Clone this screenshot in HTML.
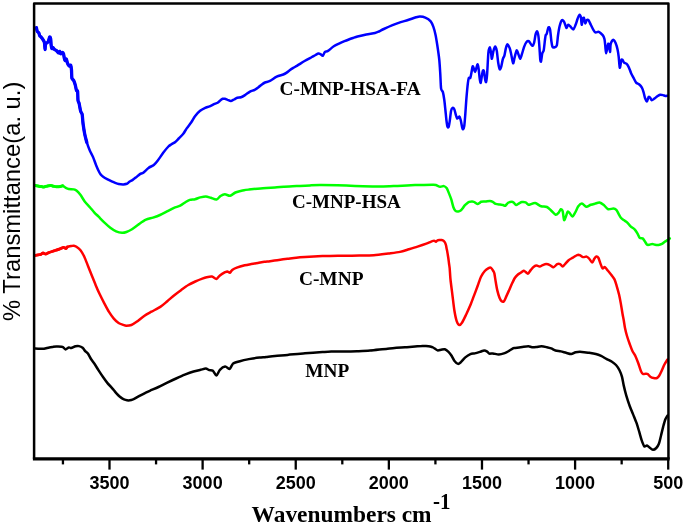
<!DOCTYPE html>
<html><head><meta charset="utf-8"><style>
html,body{margin:0;padding:0;background:#fff;}
body{width:685px;height:525px;overflow:hidden;}
svg{display:block;will-change:transform;}
</style></head><body>
<svg width="685" height="525" viewBox="0 0 685 525">
<rect width="685" height="525" fill="#fff"/>
<g fill="none" stroke-width="2.5" stroke-linejoin="round" stroke-linecap="round">
<path stroke="#0000ff" d="M36.40,27.60 C36.52,28.11 36.98,30.69 37.30,31.40 C37.62,32.11 38.48,32.33 38.80,32.90 C39.12,33.47 39.39,35.14 39.70,35.70 C40.01,36.26 40.71,36.66 41.10,37.10 C41.49,37.54 42.28,38.55 42.60,39.00 C42.92,39.45 43.25,39.98 43.50,40.50 C43.75,41.02 44.30,41.70 44.50,42.90 C44.70,44.10 44.85,49.38 45.00,49.50 C45.15,49.62 45.35,44.68 45.60,43.80 C45.85,42.92 46.54,43.22 46.90,42.90 C47.26,42.58 47.93,42.19 48.30,41.40 C48.67,40.61 49.38,37.32 49.70,37.00 C50.02,36.68 50.51,37.96 50.70,39.00 C50.89,40.04 50.94,43.52 51.10,44.80 C51.26,46.08 51.65,48.23 51.90,48.60 C52.15,48.97 52.65,47.48 53.00,47.60 C53.35,47.72 54.05,49.11 54.50,49.50 C54.95,49.89 55.89,50.05 56.40,50.50 C56.91,50.95 57.86,52.78 58.30,52.90 C58.74,53.02 59.38,51.28 59.70,51.40 C60.02,51.52 60.31,53.67 60.70,53.80 C61.09,53.93 62.23,52.40 62.60,52.40 C62.97,52.40 63.27,53.04 63.50,53.80 C63.73,54.56 64.10,57.21 64.30,58.10 C64.50,58.99 64.72,60.38 65.00,60.50 C65.28,60.62 66.12,58.81 66.40,59.00 C66.68,59.19 66.85,61.13 67.10,61.90 C67.35,62.67 67.95,64.23 68.30,64.80 C68.65,65.37 69.38,66.15 69.70,66.20 C70.02,66.25 70.46,64.69 70.70,65.20 C70.94,65.71 71.34,68.27 71.50,70.00 C71.66,71.73 71.61,76.80 71.90,78.20 C72.19,79.60 73.25,79.58 73.70,80.50 C74.15,81.42 74.93,83.77 75.30,85.10 C75.67,86.43 76.19,89.69 76.50,90.50 C76.81,91.31 77.40,89.88 77.60,91.20 C77.80,92.52 77.80,98.77 78.00,100.40 C78.20,102.03 78.75,101.97 79.10,103.40 C79.45,104.83 80.20,109.67 80.60,111.10 C81.00,112.53 81.83,113.09 82.10,114.10 C82.37,115.11 82.47,117.38 82.60,118.70 C82.73,120.02 82.82,121.96 83.10,124.00 C83.38,126.04 84.21,131.55 84.70,134.00 C85.19,136.45 86.11,140.17 86.80,142.40 C87.49,144.63 89.07,148.75 89.90,150.70 C90.73,152.65 92.16,155.04 93.00,157.00 C93.84,158.96 95.36,163.36 96.20,165.40 C97.04,167.44 98.71,171.11 99.30,172.30 C99.89,173.49 100.04,173.67 100.60,174.30 C101.16,174.93 102.57,176.32 103.50,177.00 C104.43,177.68 106.51,178.81 107.60,179.40 C108.69,179.99 110.69,180.93 111.70,181.40 C112.71,181.87 114.27,182.55 115.20,182.90 C116.13,183.25 117.61,183.80 118.70,184.00 C119.79,184.20 122.31,184.43 123.40,184.40 C124.49,184.37 126.22,184.04 126.90,183.80 C127.58,183.56 128.11,182.91 128.50,182.60 C128.89,182.29 129.24,181.86 129.80,181.50 C130.36,181.14 131.85,180.47 132.70,179.90 C133.55,179.33 135.23,177.97 136.20,177.20 C137.17,176.43 139.05,174.70 140.00,174.10 C140.95,173.50 142.17,173.53 143.30,172.70 C144.43,171.87 147.10,168.93 148.50,167.90 C149.90,166.87 152.53,166.03 153.80,165.00 C155.07,163.97 156.75,161.83 158.00,160.20 C159.25,158.57 161.81,154.63 163.20,152.80 C164.59,150.97 167.29,147.65 168.40,146.50 C169.51,145.35 170.58,144.81 171.50,144.20 C172.42,143.59 174.34,142.66 175.30,141.90 C176.26,141.14 177.63,139.59 178.70,138.50 C179.77,137.41 182.23,135.05 183.30,133.70 C184.37,132.35 185.63,129.92 186.70,128.40 C187.77,126.88 190.19,123.93 191.30,122.30 C192.41,120.67 193.83,117.73 195.00,116.20 C196.17,114.67 198.74,111.91 200.10,110.80 C201.46,109.69 203.93,108.49 205.20,107.90 C206.47,107.31 208.33,106.93 209.60,106.40 C210.87,105.87 213.63,104.38 214.70,103.90 C215.77,103.42 216.83,103.28 217.60,102.80 C218.37,102.32 219.82,100.83 220.50,100.30 C221.18,99.77 222.11,99.00 222.70,98.80 C223.29,98.60 224.26,98.67 224.90,98.80 C225.54,98.93 226.71,99.51 227.50,99.80 C228.29,100.09 229.93,101.04 230.80,101.00 C231.67,100.96 233.13,99.94 234.00,99.50 C234.87,99.06 236.37,98.01 237.30,97.70 C238.23,97.39 239.97,97.55 241.00,97.20 C242.03,96.85 243.80,95.85 245.00,95.10 C246.20,94.35 248.72,92.31 250.00,91.60 C251.28,90.89 253.47,90.39 254.60,89.80 C255.73,89.21 257.53,87.92 258.50,87.20 C259.47,86.48 261.03,85.03 261.90,84.40 C262.77,83.77 263.92,82.97 265.00,82.50 C266.08,82.03 268.44,81.69 270.00,80.90 C271.56,80.11 274.93,77.45 276.70,76.60 C278.47,75.75 281.97,75.03 283.30,74.50 C284.63,73.97 285.81,73.20 286.70,72.60 C287.59,72.00 289.12,70.63 290.00,70.00 C290.88,69.37 292.33,68.49 293.30,67.90 C294.27,67.31 295.79,66.52 297.30,65.60 C298.81,64.68 302.65,62.15 304.60,61.00 C306.55,59.85 310.45,57.80 311.90,57.00 C313.35,56.20 314.62,55.45 315.50,55.00 C316.38,54.55 317.83,53.71 318.50,53.60 C319.17,53.49 319.93,53.91 320.50,54.20 C321.07,54.49 322.20,56.12 322.80,55.80 C323.40,55.48 324.31,52.45 325.00,51.80 C325.69,51.15 326.83,51.63 328.00,50.90 C329.17,50.17 332.20,47.33 333.80,46.30 C335.40,45.27 338.57,43.88 340.00,43.20 C341.43,42.52 343.33,41.69 344.50,41.20 C345.67,40.71 347.67,39.93 348.80,39.50 C349.93,39.07 351.84,38.40 353.00,38.00 C354.16,37.60 355.73,36.98 357.50,36.50 C359.27,36.02 363.97,34.87 366.30,34.40 C368.63,33.93 373.31,33.39 375.00,33.00 C376.69,32.61 377.83,32.03 379.00,31.50 C380.17,30.97 382.00,29.85 383.80,29.00 C385.60,28.15 390.34,25.98 392.50,25.10 C394.66,24.22 397.93,23.08 400.00,22.40 C402.07,21.72 405.87,20.68 408.00,20.00 C410.13,19.32 414.40,17.77 416.00,17.30 C417.60,16.83 418.76,16.46 420.00,16.50 C421.24,16.54 423.87,16.96 425.30,17.60 C426.73,18.24 429.63,20.09 430.70,21.30 C431.77,22.51 432.66,24.91 433.30,26.70 C433.94,28.49 434.97,32.22 435.50,34.70 C436.03,37.18 436.79,41.93 437.30,45.30 C437.81,48.67 438.90,56.13 439.30,60.00 C439.70,63.87 440.06,70.49 440.30,74.30 C440.54,78.11 440.75,86.23 441.10,88.60 C441.45,90.97 442.47,90.58 442.90,92.10 C443.33,93.62 443.97,97.61 444.30,100.00 C444.63,102.39 445.12,107.33 445.40,110.00 C445.68,112.67 446.13,117.81 446.40,120.00 C446.67,122.19 447.11,125.45 447.40,126.40 C447.69,127.35 448.29,127.77 448.60,127.10 C448.91,126.43 449.37,123.59 449.70,121.40 C450.03,119.21 450.71,112.50 451.10,110.70 C451.49,108.90 452.17,108.09 452.60,107.90 C453.03,107.71 453.89,108.45 454.30,109.30 C454.71,110.15 455.33,113.06 455.70,114.30 C456.07,115.54 456.62,118.32 457.10,118.60 C457.58,118.88 458.82,116.21 459.30,116.40 C459.78,116.59 460.33,118.57 460.70,120.00 C461.07,121.43 461.78,125.86 462.10,127.10 C462.42,128.34 462.81,129.49 463.10,129.30 C463.39,129.11 464.01,127.70 464.30,125.70 C464.59,123.70 465.02,117.91 465.30,114.30 C465.58,110.69 466.05,102.79 466.40,98.60 C466.75,94.41 467.57,85.66 467.90,82.90 C468.23,80.14 468.58,78.57 468.90,77.90 C469.22,77.23 469.97,78.57 470.30,77.90 C470.63,77.23 471.09,74.43 471.40,72.90 C471.71,71.37 472.31,67.07 472.60,66.40 C472.89,65.73 473.28,67.14 473.60,67.90 C473.92,68.66 474.63,72.10 475.00,72.10 C475.37,72.10 476.05,68.94 476.40,67.90 C476.75,66.86 477.31,64.21 477.60,64.30 C477.89,64.39 478.32,66.69 478.60,68.60 C478.88,70.51 479.42,76.69 479.70,78.60 C479.98,80.51 480.43,83.10 480.70,82.90 C480.97,82.70 481.41,78.73 481.70,77.10 C481.99,75.47 482.59,71.46 482.90,70.70 C483.21,69.94 483.72,70.35 484.00,71.40 C484.28,72.45 484.73,77.17 485.00,78.60 C485.27,80.03 485.72,82.67 486.00,82.10 C486.28,81.53 486.78,78.22 487.10,74.30 C487.42,70.38 488.03,56.30 488.40,52.70 C488.77,49.10 489.55,47.30 489.90,47.30 C490.25,47.30 490.73,51.17 491.00,52.70 C491.27,54.23 491.58,59.01 491.90,58.80 C492.22,58.59 492.96,52.73 493.40,51.10 C493.84,49.47 494.75,46.60 495.20,46.60 C495.65,46.60 496.39,48.87 496.80,51.10 C497.21,53.33 497.90,60.86 498.30,63.30 C498.70,65.74 499.40,68.99 499.80,69.40 C500.20,69.81 500.89,67.81 501.30,66.40 C501.71,64.99 502.49,60.23 502.90,58.80 C503.31,57.37 504.00,57.13 504.40,55.70 C504.80,54.27 505.50,49.62 505.90,48.10 C506.30,46.58 506.89,44.30 507.40,44.30 C507.91,44.30 509.19,46.78 509.70,48.10 C510.21,49.42 510.75,52.17 511.20,54.20 C511.65,56.23 512.63,62.90 513.10,63.30 C513.57,63.70 514.23,58.92 514.70,57.20 C515.17,55.48 516.11,50.80 516.60,50.40 C517.09,50.00 517.93,53.08 518.40,54.20 C518.87,55.32 519.63,58.80 520.10,58.80 C520.57,58.80 521.35,55.83 521.90,54.20 C522.45,52.57 523.59,48.23 524.20,46.60 C524.81,44.97 525.89,42.72 526.50,42.00 C527.11,41.28 528.20,40.89 528.80,41.20 C529.40,41.51 530.49,43.69 531.00,44.30 C531.51,44.91 532.19,46.00 532.60,45.80 C533.01,45.60 533.70,44.32 534.10,42.80 C534.50,41.28 535.20,35.93 535.60,34.40 C536.00,32.87 536.73,31.10 537.10,31.30 C537.47,31.50 538.09,33.86 538.40,35.90 C538.71,37.94 539.16,43.55 539.40,46.60 C539.64,49.65 539.99,56.81 540.20,58.80 C540.41,60.79 540.72,62.23 541.00,61.50 C541.28,60.77 541.94,54.79 542.30,53.30 C542.66,51.81 543.34,52.14 543.70,50.30 C544.06,48.46 544.73,41.54 545.00,39.50 C545.27,37.46 545.49,35.71 545.70,35.00 C545.91,34.29 546.23,35.23 546.60,34.20 C546.97,33.17 548.03,27.89 548.50,27.30 C548.97,26.71 549.73,28.04 550.10,29.80 C550.47,31.56 550.99,38.26 551.30,40.50 C551.61,42.74 551.95,45.69 552.40,46.60 C552.85,47.51 554.11,47.46 554.70,47.30 C555.29,47.14 556.36,46.97 556.80,45.40 C557.24,43.83 557.63,38.05 558.00,35.50 C558.37,32.95 559.08,28.34 559.60,26.30 C560.12,24.26 561.30,20.80 561.90,20.20 C562.50,19.60 563.50,20.77 564.10,21.80 C564.70,22.83 565.88,27.50 566.40,27.90 C566.92,28.30 567.49,25.01 568.00,24.80 C568.51,24.59 569.49,25.69 570.20,26.30 C570.91,26.91 572.58,29.60 573.30,29.40 C574.02,29.20 575.03,26.23 575.60,24.80 C576.17,23.37 577.09,20.02 577.60,18.70 C578.11,17.38 578.96,15.10 579.40,14.90 C579.84,14.70 580.59,15.88 580.90,17.20 C581.21,18.52 581.43,24.60 581.70,24.80 C581.97,25.00 582.59,19.61 582.90,18.70 C583.21,17.79 583.69,17.39 584.00,18.00 C584.31,18.61 584.84,23.01 585.20,23.30 C585.56,23.59 586.26,20.61 586.70,20.20 C587.14,19.79 587.95,19.59 588.50,20.20 C589.05,20.81 590.19,23.57 590.80,24.80 C591.41,26.03 592.49,28.39 593.10,29.40 C593.71,30.41 594.69,32.09 595.40,32.40 C596.11,32.71 597.69,31.59 598.40,31.70 C599.11,31.81 600.09,32.69 600.70,33.20 C601.31,33.71 602.49,34.69 603.00,35.50 C603.51,36.31 604.19,37.89 604.50,39.30 C604.81,40.71 605.09,44.23 605.30,46.10 C605.51,47.97 605.79,53.30 606.10,53.30 C606.41,53.30 607.27,47.35 607.60,46.10 C607.93,44.85 608.28,43.11 608.60,43.90 C608.92,44.69 609.73,51.91 610.00,52.00 C610.27,52.09 610.32,46.09 610.60,44.60 C610.88,43.11 611.69,41.41 612.10,40.80 C612.51,40.19 613.23,39.69 613.70,40.00 C614.17,40.31 615.09,41.87 615.60,43.10 C616.11,44.33 617.09,47.37 617.50,49.20 C617.91,51.03 618.39,54.32 618.70,56.80 C619.01,59.28 619.45,67.33 619.80,67.80 C620.15,68.27 620.95,61.38 621.30,60.30 C621.65,59.22 622.03,59.39 622.40,59.70 C622.77,60.01 623.57,62.07 624.10,62.60 C624.63,63.13 625.79,63.10 626.40,63.70 C627.01,64.30 628.09,65.87 628.70,67.10 C629.31,68.33 630.39,71.53 631.00,72.90 C631.61,74.27 632.62,76.11 633.30,77.40 C633.98,78.69 635.34,81.68 636.10,82.60 C636.86,83.52 638.23,83.62 639.00,84.30 C639.77,84.98 641.29,86.63 641.90,87.70 C642.51,88.77 643.19,90.93 643.60,92.30 C644.01,93.67 644.55,96.79 645.00,98.00 C645.45,99.21 646.51,101.55 647.00,101.40 C647.49,101.25 648.25,97.35 648.70,96.90 C649.15,96.45 649.99,97.55 650.40,98.00 C650.81,98.45 651.27,100.22 651.80,100.30 C652.33,100.38 653.67,99.13 654.40,98.60 C655.13,98.07 656.54,96.81 657.30,96.30 C658.06,95.79 659.34,94.96 660.10,94.80 C660.86,94.64 662.31,94.95 663.00,95.10 C663.69,95.25 664.70,95.82 665.30,95.90 C665.90,95.98 667.21,95.73 667.50,95.70"/>
<path stroke="#0000ff" stroke-width="3.3" d="M36.40,27.60 C36.52,28.11 36.98,30.69 37.30,31.40 C37.62,32.11 38.48,32.33 38.80,32.90 C39.12,33.47 39.39,35.14 39.70,35.70 C40.01,36.26 40.71,36.66 41.10,37.10 C41.49,37.54 42.28,38.55 42.60,39.00 C42.92,39.45 43.25,39.98 43.50,40.50 C43.75,41.02 44.30,41.70 44.50,42.90 C44.70,44.10 44.85,49.38 45.00,49.50 C45.15,49.62 45.35,44.68 45.60,43.80 C45.85,42.92 46.54,43.22 46.90,42.90 C47.26,42.58 47.93,42.19 48.30,41.40 C48.67,40.61 49.38,37.32 49.70,37.00 C50.02,36.68 50.51,37.96 50.70,39.00 C50.89,40.04 50.94,43.52 51.10,44.80 C51.26,46.08 51.65,48.23 51.90,48.60 C52.15,48.97 52.65,47.48 53.00,47.60 C53.35,47.72 54.05,49.11 54.50,49.50 C54.95,49.89 55.89,50.05 56.40,50.50 C56.91,50.95 57.86,52.78 58.30,52.90 C58.74,53.02 59.38,51.28 59.70,51.40 C60.02,51.52 60.31,53.67 60.70,53.80 C61.09,53.93 62.23,52.40 62.60,52.40 C62.97,52.40 63.27,53.04 63.50,53.80 C63.73,54.56 64.10,57.21 64.30,58.10 C64.50,58.99 64.72,60.38 65.00,60.50 C65.28,60.62 66.12,58.81 66.40,59.00 C66.68,59.19 66.85,61.13 67.10,61.90 C67.35,62.67 67.95,64.23 68.30,64.80 C68.65,65.37 69.38,66.15 69.70,66.20 C70.02,66.25 70.46,64.69 70.70,65.20 C70.94,65.71 71.34,68.27 71.50,70.00 C71.66,71.73 71.61,76.80 71.90,78.20 C72.19,79.60 73.25,79.58 73.70,80.50 C74.15,81.42 74.93,83.77 75.30,85.10 C75.67,86.43 76.19,89.69 76.50,90.50 C76.81,91.31 77.40,89.88 77.60,91.20 C77.80,92.52 77.80,98.77 78.00,100.40 C78.20,102.03 78.75,101.97 79.10,103.40 C79.45,104.83 80.20,109.67 80.60,111.10 C81.00,112.53 81.83,113.09 82.10,114.10 C82.37,115.11 82.47,117.38 82.60,118.70 C82.73,120.02 82.82,121.96 83.10,124.00 C83.38,126.04 84.21,131.55 84.70,134.00 C85.19,136.45 86.52,141.28 86.80,142.40"/>
<path stroke="#00ff00" d="M35.50,185.50 C35.94,185.59 38.00,186.05 38.80,186.20 C39.60,186.35 40.81,186.51 41.50,186.60 C42.19,186.69 43.20,186.99 44.00,186.90 C44.80,186.81 46.57,186.07 47.50,185.90 C48.43,185.73 50.20,185.56 51.00,185.60 C51.80,185.64 52.79,186.04 53.50,186.20 C54.21,186.36 55.38,186.76 56.30,186.80 C57.22,186.84 59.55,186.63 60.40,186.50 C61.25,186.37 61.98,185.63 62.70,185.80 C63.42,185.97 65.00,187.37 65.80,187.80 C66.60,188.23 67.63,188.79 68.70,189.00 C69.77,189.21 72.73,189.17 73.80,189.40 C74.87,189.63 75.82,189.98 76.70,190.70 C77.58,191.42 79.33,193.37 80.40,194.80 C81.47,196.23 83.43,199.75 84.70,201.40 C85.97,203.05 88.63,205.75 89.90,207.20 C91.17,208.65 93.04,211.03 94.20,212.30 C95.36,213.57 97.23,215.33 98.60,216.70 C99.97,218.07 102.94,221.13 104.50,222.60 C106.06,224.07 108.75,226.54 110.30,227.70 C111.85,228.86 114.54,230.62 116.10,231.30 C117.66,231.98 120.63,232.71 122.00,232.80 C123.37,232.89 125.07,232.47 126.40,232.00 C127.73,231.53 130.32,230.35 132.00,229.30 C133.68,228.25 137.13,225.38 139.00,224.10 C140.87,222.82 144.13,220.57 146.00,219.70 C147.87,218.83 151.13,218.23 153.00,217.60 C154.87,216.97 158.13,215.83 160.00,215.00 C161.87,214.17 165.13,212.35 167.00,211.40 C168.87,210.45 172.24,208.66 174.00,207.90 C175.76,207.14 178.68,206.46 180.20,205.70 C181.72,204.94 184.12,202.97 185.40,202.20 C186.68,201.43 188.51,200.30 189.80,199.90 C191.09,199.50 193.70,199.53 195.10,199.20 C196.50,198.87 198.86,197.77 200.30,197.40 C201.74,197.03 204.50,196.35 205.90,196.40 C207.30,196.45 209.39,197.39 210.80,197.80 C212.21,198.21 215.21,199.74 216.50,199.50 C217.79,199.26 219.38,196.69 220.50,196.00 C221.62,195.31 223.62,194.34 224.90,194.30 C226.18,194.26 228.70,195.94 230.10,195.70 C231.50,195.46 234.00,193.13 235.40,192.50 C236.80,191.87 239.45,191.31 240.60,191.00 C241.75,190.69 242.91,190.39 244.00,190.20 C245.09,190.01 247.00,189.80 248.80,189.60 C250.60,189.40 255.17,188.93 257.50,188.70 C259.83,188.47 263.97,188.06 266.30,187.90 C268.63,187.74 272.67,187.65 275.00,187.50 C277.33,187.35 281.47,186.97 283.80,186.80 C286.13,186.63 290.34,186.32 292.50,186.20 C294.66,186.08 297.67,186.01 300.00,185.90 C302.33,185.79 307.33,185.51 310.00,185.40 C312.67,185.29 316.33,185.11 320.00,185.10 C323.67,185.09 332.83,185.19 337.50,185.30 C342.17,185.41 350.33,185.75 355.00,185.90 C359.67,186.05 369.17,186.32 372.50,186.40 C375.83,186.48 377.67,186.53 380.00,186.50 C382.33,186.47 387.67,186.28 390.00,186.20 C392.33,186.12 395.23,186.01 397.50,185.90 C399.77,185.79 404.67,185.51 407.00,185.40 C409.33,185.29 412.73,185.17 415.00,185.10 C417.27,185.03 421.67,184.94 424.00,184.90 C426.33,184.86 430.93,184.79 432.50,184.80 C434.07,184.81 434.77,184.73 435.80,185.00 C436.83,185.27 439.12,186.65 440.20,186.80 C441.28,186.95 443.02,185.91 443.90,186.10 C444.78,186.29 446.12,187.23 446.80,188.20 C447.48,189.17 448.41,191.93 449.00,193.40 C449.59,194.87 450.61,197.36 451.20,199.20 C451.79,201.04 452.83,205.64 453.40,207.20 C453.97,208.76 454.85,210.33 455.50,210.90 C456.15,211.47 457.61,211.54 458.30,211.50 C458.99,211.46 460.13,211.01 460.70,210.60 C461.27,210.19 462.09,209.07 462.60,208.40 C463.11,207.73 463.93,206.27 464.50,205.60 C465.07,204.93 466.27,203.89 466.90,203.40 C467.53,202.91 468.51,202.17 469.20,201.90 C469.89,201.63 471.43,201.39 472.10,201.40 C472.77,201.41 473.49,201.65 474.20,202.00 C474.91,202.35 476.63,203.92 477.40,204.00 C478.17,204.08 479.51,202.89 480.00,202.60 C480.49,202.31 480.37,201.95 481.10,201.80 C481.83,201.65 484.33,201.62 485.50,201.50 C486.67,201.38 488.93,200.86 489.90,200.90 C490.87,200.94 492.03,201.40 492.80,201.80 C493.57,202.20 494.73,203.53 495.70,203.90 C496.67,204.27 499.13,204.45 500.10,204.60 C501.07,204.75 502.32,204.84 503.00,205.00 C503.68,205.16 504.52,206.09 505.20,205.80 C505.88,205.51 507.22,203.33 508.10,202.80 C508.98,202.27 511.03,201.80 511.80,201.80 C512.57,201.80 513.33,202.37 513.90,202.80 C514.47,203.23 515.41,204.93 516.10,205.00 C516.79,205.07 518.31,203.69 519.10,203.30 C519.89,202.91 521.13,202.22 522.00,202.10 C522.87,201.98 524.83,202.11 525.60,202.40 C526.37,202.69 527.29,203.98 527.80,204.30 C528.31,204.62 528.41,204.96 529.40,204.80 C530.39,204.64 533.64,202.90 535.20,203.10 C536.76,203.30 539.54,205.78 541.10,206.30 C542.66,206.82 545.54,206.41 546.90,207.00 C548.26,207.59 550.13,209.67 551.30,210.70 C552.47,211.73 554.73,214.42 555.70,214.70 C556.67,214.98 557.92,213.53 558.60,212.80 C559.28,212.07 560.25,209.39 560.80,209.20 C561.35,209.01 562.26,209.95 562.70,211.40 C563.14,212.85 563.67,219.42 564.10,220.10 C564.53,220.78 565.43,217.61 565.90,216.50 C566.37,215.39 567.12,212.29 567.60,211.80 C568.08,211.31 568.86,212.17 569.50,212.80 C570.14,213.43 571.61,216.59 572.40,216.50 C573.19,216.41 574.61,213.46 575.40,212.10 C576.19,210.74 577.43,207.46 578.30,206.30 C579.17,205.14 580.83,203.35 581.90,203.40 C582.97,203.45 585.13,206.51 586.30,206.70 C587.47,206.89 589.53,205.21 590.70,204.80 C591.87,204.39 593.93,203.89 595.10,203.60 C596.27,203.31 598.34,202.40 599.50,202.60 C600.66,202.80 602.64,204.22 603.80,205.10 C604.96,205.98 606.92,208.75 608.20,209.20 C609.48,209.65 612.32,208.41 613.40,208.50 C614.48,208.59 615.61,209.19 616.30,209.90 C616.99,210.61 617.99,212.75 618.60,213.80 C619.21,214.85 620.22,216.96 620.90,217.80 C621.58,218.64 622.87,219.49 623.70,220.10 C624.53,220.71 626.18,221.56 627.10,222.40 C628.02,223.24 629.60,225.48 630.60,226.40 C631.60,227.32 633.69,228.38 634.60,229.30 C635.51,230.22 636.72,232.17 637.40,233.30 C638.08,234.43 639.01,237.12 639.70,237.80 C640.39,238.48 641.92,237.93 642.60,238.40 C643.28,238.87 644.20,240.46 644.80,241.30 C645.40,242.14 646.49,244.25 647.10,244.70 C647.71,245.15 648.71,244.81 649.40,244.70 C650.09,244.59 651.54,243.90 652.30,243.90 C653.06,243.90 654.27,244.57 655.10,244.70 C655.93,244.83 657.58,245.01 658.50,244.90 C659.42,244.79 661.16,244.31 662.00,243.90 C662.84,243.49 664.07,242.31 664.80,241.80 C665.53,241.29 666.83,240.55 667.50,240.10 C668.17,239.65 669.49,238.63 669.80,238.40"/>
<path stroke="#00ff00" stroke-width="3.0" d="M35.50,185.50 C35.94,185.59 38.00,186.05 38.80,186.20 C39.60,186.35 40.81,186.51 41.50,186.60 C42.19,186.69 43.20,186.99 44.00,186.90 C44.80,186.81 46.57,186.07 47.50,185.90 C48.43,185.73 50.20,185.56 51.00,185.60 C51.80,185.64 52.79,186.04 53.50,186.20 C54.21,186.36 55.38,186.76 56.30,186.80 C57.22,186.84 59.55,186.63 60.40,186.50 C61.25,186.37 62.39,185.89 62.70,185.80"/>
<path stroke="#ff0000" d="M35.30,255.40 C35.73,255.32 37.74,254.95 38.50,254.80 C39.26,254.65 40.39,254.54 41.00,254.30 C41.61,254.06 42.47,253.03 43.10,253.00 C43.73,252.97 44.91,254.17 45.70,254.10 C46.49,254.03 47.88,252.94 49.00,252.50 C50.12,252.06 52.74,251.24 54.10,250.80 C55.46,250.36 57.93,249.65 59.20,249.20 C60.47,248.75 62.72,247.48 63.60,247.40 C64.48,247.32 65.32,248.65 65.80,248.60 C66.28,248.55 66.43,247.35 67.20,247.00 C67.97,246.65 70.72,246.17 71.60,246.00 C72.48,245.83 73.16,245.59 73.80,245.70 C74.44,245.81 75.51,246.20 76.40,246.80 C77.29,247.40 79.45,248.88 80.50,250.20 C81.55,251.52 83.29,254.57 84.30,256.70 C85.31,258.83 87.09,263.67 88.10,266.20 C89.11,268.73 90.89,273.17 91.90,275.70 C92.91,278.23 94.69,282.79 95.70,285.20 C96.71,287.61 98.35,291.39 99.50,293.80 C100.65,296.21 103.03,300.89 104.30,303.30 C105.57,305.71 107.73,309.86 109.00,311.90 C110.27,313.94 112.52,317.12 113.80,318.60 C115.08,320.08 117.33,322.16 118.60,323.00 C119.87,323.84 122.30,324.54 123.30,324.90 C124.30,325.26 125.02,325.69 126.10,325.70 C127.18,325.71 130.00,325.52 131.40,325.00 C132.80,324.48 134.85,323.04 136.60,321.80 C138.35,320.56 142.51,317.05 144.50,315.70 C146.49,314.35 149.39,312.87 151.50,311.70 C153.61,310.53 158.19,308.30 160.30,306.90 C162.41,305.50 165.43,302.76 167.30,301.20 C169.17,299.64 172.43,296.71 174.30,295.20 C176.17,293.69 179.43,291.26 181.30,289.90 C183.17,288.54 186.43,286.12 188.30,285.00 C190.17,283.88 193.43,282.35 195.30,281.50 C197.17,280.65 200.78,279.17 202.30,278.60 C203.82,278.03 205.41,277.47 206.70,277.20 C207.99,276.93 210.71,276.37 212.00,276.60 C213.29,276.83 215.35,279.06 216.40,278.90 C217.45,278.74 218.74,276.29 219.90,275.40 C221.06,274.51 224.11,272.73 225.10,272.20 C226.09,271.67 226.66,271.32 227.30,271.40 C227.94,271.48 229.25,273.00 229.90,272.80 C230.55,272.60 231.28,270.59 232.20,269.90 C233.12,269.21 235.13,268.21 236.80,267.60 C238.47,266.99 242.77,265.78 244.70,265.30 C246.63,264.82 249.54,264.32 251.30,264.00 C253.06,263.68 256.15,263.19 257.90,262.90 C259.65,262.61 262.79,262.03 264.40,261.80 C266.01,261.57 268.08,261.45 270.00,261.20 C271.92,260.95 276.47,260.22 278.80,259.90 C281.13,259.58 285.17,259.09 287.50,258.80 C289.83,258.51 293.97,257.94 296.30,257.70 C298.63,257.46 302.67,257.16 305.00,257.00 C307.33,256.84 311.47,256.62 313.80,256.50 C316.13,256.38 320.34,256.18 322.50,256.10 C324.66,256.02 327.05,255.95 330.00,255.90 C332.95,255.85 340.71,255.74 344.60,255.70 C348.49,255.66 355.31,255.67 359.20,255.60 C363.09,255.53 369.91,255.48 373.80,255.20 C377.69,254.92 384.91,253.94 388.40,253.50 C391.89,253.06 397.28,252.46 400.00,251.90 C402.72,251.34 406.47,250.01 408.80,249.30 C411.13,248.59 415.17,247.36 417.50,246.60 C419.83,245.84 424.54,244.24 426.30,243.60 C428.06,242.96 429.77,242.16 430.70,241.80 C431.63,241.44 432.78,241.02 433.30,240.90 C433.82,240.78 434.25,240.78 434.60,240.90 C434.95,241.02 435.55,241.85 435.90,241.80 C436.25,241.75 436.73,240.73 437.20,240.50 C437.67,240.27 438.81,240.15 439.40,240.10 C439.99,240.05 441.01,239.99 441.60,240.10 C442.19,240.21 443.33,240.55 443.80,240.90 C444.27,241.25 444.81,242.11 445.10,242.70 C445.39,243.29 445.80,244.54 446.00,245.30 C446.20,246.06 446.43,247.52 446.60,248.40 C446.77,249.28 447.09,250.73 447.30,251.90 C447.51,253.07 447.97,255.68 448.20,257.20 C448.43,258.72 448.80,261.79 449.00,263.30 C449.20,264.81 449.50,266.34 449.70,268.50 C449.90,270.66 450.14,275.99 450.50,279.50 C450.86,283.01 451.89,290.73 452.40,294.80 C452.91,298.87 453.74,306.53 454.30,310.00 C454.86,313.47 455.93,318.80 456.60,320.80 C457.27,322.80 458.54,324.81 459.30,325.00 C460.06,325.19 461.37,323.64 462.30,322.20 C463.23,320.76 465.25,316.41 466.30,314.20 C467.35,311.99 469.17,308.08 470.20,305.60 C471.23,303.12 473.00,298.24 474.00,295.60 C475.00,292.96 476.77,288.32 477.70,285.80 C478.63,283.28 480.05,278.67 481.00,276.70 C481.95,274.73 483.79,272.15 484.80,271.00 C485.81,269.85 487.79,268.54 488.60,268.10 C489.41,267.66 490.27,267.31 490.90,267.70 C491.53,268.09 492.83,270.21 493.30,271.00 C493.77,271.79 494.07,272.09 494.40,273.60 C494.73,275.11 495.41,280.06 495.80,282.30 C496.19,284.54 496.81,288.35 497.30,290.40 C497.79,292.45 498.91,296.25 499.50,297.70 C500.09,299.15 501.11,300.82 501.70,301.30 C502.29,301.78 503.31,301.89 503.90,301.30 C504.49,300.71 505.42,298.35 506.10,296.90 C506.78,295.45 508.23,292.15 509.00,290.40 C509.77,288.65 511.13,285.45 511.90,283.80 C512.67,282.15 514.03,279.21 514.80,278.00 C515.57,276.79 516.91,275.39 517.70,274.70 C518.49,274.01 519.91,273.33 520.70,272.80 C521.49,272.27 522.92,270.79 523.60,270.70 C524.28,270.61 525.21,271.71 525.80,272.10 C526.39,272.49 527.32,273.89 528.00,273.60 C528.68,273.31 530.13,270.82 530.90,269.90 C531.67,268.98 533.03,267.29 533.80,266.70 C534.57,266.11 535.93,265.51 536.70,265.50 C537.47,265.49 538.72,266.69 539.60,266.60 C540.48,266.51 542.42,265.13 543.30,264.80 C544.18,264.47 545.32,264.06 546.20,264.10 C547.08,264.14 548.93,264.67 549.90,265.10 C550.87,265.53 552.53,267.43 553.50,267.30 C554.47,267.17 556.32,264.53 557.20,264.10 C558.08,263.67 559.38,263.77 560.10,264.10 C560.82,264.43 561.93,266.61 562.60,266.60 C563.27,266.59 564.30,264.85 565.10,264.00 C565.90,263.15 567.57,261.05 568.60,260.20 C569.63,259.35 571.67,258.28 572.80,257.60 C573.93,256.92 576.18,255.43 577.10,255.10 C578.02,254.77 578.90,254.83 579.70,255.10 C580.50,255.37 582.18,256.90 583.10,257.10 C584.02,257.30 585.80,256.41 586.60,256.60 C587.40,256.79 588.35,257.70 589.10,258.50 C589.85,259.30 591.51,262.56 592.20,262.60 C592.89,262.64 593.75,259.60 594.30,258.80 C594.85,258.00 595.74,256.71 596.30,256.60 C596.86,256.49 597.97,257.13 598.50,258.00 C599.03,258.87 599.77,261.73 600.30,263.10 C600.83,264.47 601.89,267.77 602.50,268.30 C603.11,268.83 604.17,266.77 604.90,267.10 C605.63,267.43 607.13,269.73 608.00,270.80 C608.87,271.87 610.53,273.95 611.40,275.10 C612.27,276.25 613.82,278.03 614.50,279.40 C615.18,280.77 615.89,283.35 616.50,285.40 C617.11,287.45 618.53,292.40 619.10,294.80 C619.67,297.20 620.35,300.88 620.80,303.40 C621.25,305.92 622.11,311.49 622.50,313.70 C622.89,315.91 623.37,318.09 623.70,320.00 C624.03,321.91 624.56,325.87 625.00,328.00 C625.44,330.13 626.37,333.87 627.00,336.00 C627.63,338.13 628.99,342.04 629.70,344.00 C630.41,345.96 631.50,349.01 632.30,350.70 C633.10,352.39 634.90,355.02 635.70,356.70 C636.50,358.38 637.59,361.35 638.30,363.30 C639.01,365.25 640.37,369.87 641.00,371.30 C641.63,372.73 642.37,373.68 643.00,374.00 C643.63,374.32 645.07,373.70 645.70,373.70 C646.33,373.70 647.09,373.60 647.70,374.00 C648.31,374.40 649.50,376.17 650.30,376.70 C651.10,377.23 652.81,377.83 653.70,378.00 C654.59,378.17 656.29,378.27 657.00,378.00 C657.71,377.73 658.37,376.97 659.00,376.00 C659.63,375.03 660.99,372.21 661.70,370.70 C662.41,369.19 663.53,366.19 664.30,364.70 C665.07,363.21 667.07,360.19 667.50,359.50"/>
<path stroke="#ff0000" stroke-width="2.9" d="M35.30,255.40 C35.73,255.32 37.74,254.95 38.50,254.80 C39.26,254.65 40.39,254.54 41.00,254.30 C41.61,254.06 42.47,253.03 43.10,253.00 C43.73,252.97 44.91,254.17 45.70,254.10 C46.49,254.03 47.88,252.94 49.00,252.50 C50.12,252.06 52.74,251.24 54.10,250.80 C55.46,250.36 57.93,249.65 59.20,249.20 C60.47,248.75 62.72,247.48 63.60,247.40 C64.48,247.32 65.32,248.65 65.80,248.60 C66.28,248.55 67.01,247.21 67.20,247.00"/>
<path stroke="#000000" d="M35.30,348.60 C36.02,348.61 39.54,348.69 40.70,348.70 C41.86,348.71 42.85,348.87 44.00,348.70 C45.15,348.53 48.10,347.64 49.30,347.40 C50.50,347.16 52.07,347.01 53.00,346.90 C53.93,346.79 55.17,346.63 56.30,346.60 C57.43,346.57 60.58,346.62 61.50,346.70 C62.42,346.78 62.67,346.84 63.20,347.20 C63.73,347.56 64.73,349.37 65.50,349.40 C66.27,349.43 68.24,347.57 69.00,347.40 C69.76,347.23 70.33,348.25 71.20,348.10 C72.07,347.95 74.46,346.57 75.50,346.30 C76.54,346.03 78.05,345.90 79.00,346.10 C79.95,346.30 81.77,347.12 82.60,347.80 C83.43,348.48 84.49,350.43 85.20,351.20 C85.91,351.97 87.13,352.56 87.90,353.60 C88.67,354.64 90.08,357.57 91.00,359.00 C91.92,360.43 93.79,362.78 94.80,364.30 C95.81,365.82 97.48,368.67 98.60,370.40 C99.72,372.13 101.99,375.57 103.20,377.30 C104.41,379.03 106.69,382.16 107.70,383.40 C108.71,384.64 110.00,385.72 110.80,386.60 C111.60,387.48 112.91,389.07 113.70,390.00 C114.49,390.93 115.91,392.73 116.70,393.60 C117.49,394.47 118.83,395.83 119.60,396.50 C120.37,397.17 121.71,398.15 122.50,398.60 C123.29,399.05 124.71,399.66 125.50,399.90 C126.29,400.14 127.63,400.39 128.40,400.40 C129.17,400.41 130.53,400.21 131.30,400.00 C132.07,399.79 133.43,399.17 134.20,398.80 C134.97,398.43 136.33,397.63 137.10,397.20 C137.87,396.77 138.95,396.15 140.00,395.60 C141.05,395.05 143.69,393.74 145.00,393.10 C146.31,392.46 148.00,391.61 149.80,390.80 C151.60,389.99 156.17,388.09 158.50,387.00 C160.83,385.91 164.95,383.73 167.30,382.60 C169.65,381.47 173.77,379.55 176.10,378.50 C178.43,377.45 182.47,375.63 184.80,374.70 C187.13,373.77 191.49,372.15 193.60,371.50 C195.71,370.85 198.97,370.19 200.60,369.80 C202.23,369.41 204.64,368.56 205.80,368.60 C206.96,368.64 208.35,369.82 209.30,370.10 C210.25,370.38 211.95,369.97 212.90,370.70 C213.85,371.43 215.47,375.72 216.40,375.60 C217.33,375.48 218.74,371.00 219.90,369.80 C221.06,368.60 223.82,366.72 225.10,366.60 C226.38,366.48 228.65,368.98 229.50,368.90 C230.35,368.82 231.03,366.71 231.50,366.00 C231.97,365.29 232.49,364.07 233.00,363.60 C233.51,363.13 234.38,362.82 235.30,362.50 C236.22,362.18 238.42,361.59 239.90,361.20 C241.38,360.81 244.65,359.96 246.40,359.60 C248.15,359.24 251.24,358.77 253.00,358.50 C254.76,358.23 257.85,357.81 259.60,357.60 C261.35,357.39 264.05,357.13 266.10,356.90 C268.15,356.67 272.15,356.17 275.00,355.90 C277.85,355.63 283.50,355.25 287.50,354.90 C291.50,354.55 300.33,353.67 305.00,353.30 C309.67,352.93 318.99,352.33 322.50,352.10 C326.01,351.87 328.35,351.68 331.30,351.60 C334.25,351.52 341.17,351.55 344.60,351.50 C348.03,351.45 353.61,351.32 357.00,351.20 C360.39,351.08 365.93,350.93 370.00,350.60 C374.07,350.27 382.83,349.14 387.50,348.70 C392.17,348.26 401.33,347.59 405.00,347.30 C408.67,347.01 412.67,346.69 415.00,346.50 C417.33,346.31 421.03,345.97 422.50,345.90 C423.97,345.83 424.97,345.92 426.00,346.00 C427.03,346.08 429.25,346.30 430.20,346.50 C431.15,346.70 432.13,346.98 433.10,347.50 C434.07,348.02 436.42,350.11 437.50,350.40 C438.58,350.69 440.23,349.85 441.20,349.70 C442.17,349.55 443.83,349.01 444.80,349.30 C445.77,349.59 447.62,351.07 448.50,351.90 C449.38,352.73 450.63,354.33 451.40,355.50 C452.17,356.67 453.42,359.58 454.30,360.70 C455.18,361.82 457.12,363.71 458.00,363.90 C458.88,364.09 459.93,362.97 460.90,362.10 C461.87,361.23 464.03,358.47 465.30,357.40 C466.57,356.33 469.15,354.63 470.40,354.10 C471.65,353.57 473.43,353.69 474.70,353.40 C475.97,353.11 478.63,352.30 479.90,351.90 C481.17,351.50 483.23,350.44 484.20,350.40 C485.17,350.36 486.52,351.17 487.20,351.60 C487.88,352.03 488.53,353.36 489.30,353.60 C490.07,353.84 491.73,353.28 493.00,353.40 C494.27,353.52 497.24,354.54 498.80,354.50 C500.36,354.46 503.33,353.58 504.70,353.10 C506.07,352.62 507.94,351.55 509.10,350.90 C510.26,350.25 512.57,348.59 513.40,348.20 C514.23,347.81 514.11,348.16 515.30,348.00 C516.49,347.84 520.55,347.23 522.30,347.00 C524.05,346.77 527.12,346.27 528.40,346.30 C529.68,346.33 530.85,347.11 531.90,347.20 C532.95,347.29 535.02,347.12 536.30,347.00 C537.58,346.88 540.10,346.27 541.50,346.30 C542.90,346.33 545.51,346.92 546.80,347.20 C548.09,347.48 550.04,347.96 551.20,348.40 C552.36,348.84 554.22,350.10 555.50,350.50 C556.78,350.90 559.39,351.09 560.80,351.40 C562.21,351.71 564.70,352.45 566.10,352.80 C567.50,353.15 570.02,354.08 571.30,354.00 C572.58,353.92 574.30,352.48 575.70,352.20 C577.10,351.92 580.05,351.82 581.80,351.90 C583.55,351.98 586.93,352.52 588.80,352.80 C590.67,353.08 594.16,353.59 595.80,354.00 C597.44,354.41 599.69,355.25 601.10,355.90 C602.51,356.55 605.00,358.15 606.40,358.90 C607.80,359.65 610.32,360.69 611.60,361.50 C612.88,362.31 614.95,363.83 616.00,365.00 C617.05,366.17 618.70,368.71 619.50,370.30 C620.30,371.89 621.44,374.89 622.00,376.90 C622.56,378.91 623.13,382.89 623.70,385.40 C624.27,387.91 625.50,392.95 626.30,395.70 C627.10,398.45 628.78,403.48 629.70,406.00 C630.62,408.52 632.28,412.31 633.20,414.60 C634.12,416.89 635.80,420.92 636.60,423.20 C637.40,425.48 638.52,429.42 639.20,431.70 C639.88,433.98 641.02,438.35 641.70,440.30 C642.38,442.25 643.61,445.61 644.30,446.30 C644.99,446.99 646.21,445.34 646.90,445.50 C647.59,445.66 648.70,446.93 649.50,447.50 C650.30,448.07 651.99,449.73 652.90,449.80 C653.81,449.87 655.50,448.80 656.30,448.00 C657.10,447.20 658.26,445.51 658.90,443.80 C659.54,442.09 660.53,437.49 661.10,435.20 C661.67,432.91 662.65,428.67 663.20,426.60 C663.75,424.53 664.63,421.18 665.20,419.70 C665.77,418.22 667.19,416.06 667.50,415.50"/>
</g>
<path d="M34.1,458.9 L34.1,3.5 L668.45,3.5 L668.45,458.9" fill="none" stroke="#000" stroke-width="2.5" stroke-linejoin="round"/>
<path d="M32.9,458.9 L669.6500000000001,458.9" fill="none" stroke="#000" stroke-width="3.1"/>
<g stroke="#000" stroke-width="2.3">
<line x1="109.50" y1="458.9" x2="109.50" y2="469.6"/>
<line x1="202.62" y1="458.9" x2="202.62" y2="469.6"/>
<line x1="295.74" y1="458.9" x2="295.74" y2="469.6"/>
<line x1="388.86" y1="458.9" x2="388.86" y2="469.6"/>
<line x1="481.98" y1="458.9" x2="481.98" y2="469.6"/>
<line x1="575.10" y1="458.9" x2="575.10" y2="469.6"/>
<line x1="668.22" y1="458.9" x2="668.22" y2="469.6"/>
<line x1="62.94" y1="458.9" x2="62.94" y2="464.4"/>
<line x1="156.06" y1="458.9" x2="156.06" y2="464.4"/>
<line x1="249.18" y1="458.9" x2="249.18" y2="464.4"/>
<line x1="342.30" y1="458.9" x2="342.30" y2="464.4"/>
<line x1="435.42" y1="458.9" x2="435.42" y2="464.4"/>
<line x1="528.54" y1="458.9" x2="528.54" y2="464.4"/>
<line x1="621.66" y1="458.9" x2="621.66" y2="464.4"/>
</g>
<g font-family="'Liberation Sans', sans-serif" font-weight="bold" font-size="18" text-anchor="middle" fill="#000">
<text x="109.50" y="489.1">3500</text>
<text x="202.62" y="489.1">3000</text>
<text x="295.74" y="489.1">2500</text>
<text x="388.86" y="489.1">2000</text>
<text x="481.98" y="489.1">1500</text>
<text x="575.10" y="489.1">1000</text>
<text x="668.22" y="489.1">500</text>
</g>
<text transform="translate(19.6,201.3) rotate(-90)" font-family="'Liberation Sans', sans-serif" font-size="23.8" text-anchor="middle" fill="#000">% Transmittance(a. u.)</text>
<g font-family="'Liberation Serif', serif" font-weight="bold" fill="#000">
<text transform="translate(251.6,522.2) scale(1,1.03)" font-size="23.4">Wavenumbers cm</text>
<text transform="translate(433.0,509.2) scale(0.9,1.03)" font-size="23.3">-1</text>
<text transform="translate(279.6,95.4) scale(1,1.0)" font-size="19.3">C-MNP-HSA-FA</text>
<text transform="translate(292,208.4) scale(1,1.0)" font-size="19.0">C-MNP-HSA</text>
<text transform="translate(298.9,285) scale(1,1.02)" font-size="19.4">C-MNP</text>
<text transform="translate(305.3,376.9) scale(1,1.0)" font-size="19.3">MNP</text>
</g>
</svg>
</body></html>
